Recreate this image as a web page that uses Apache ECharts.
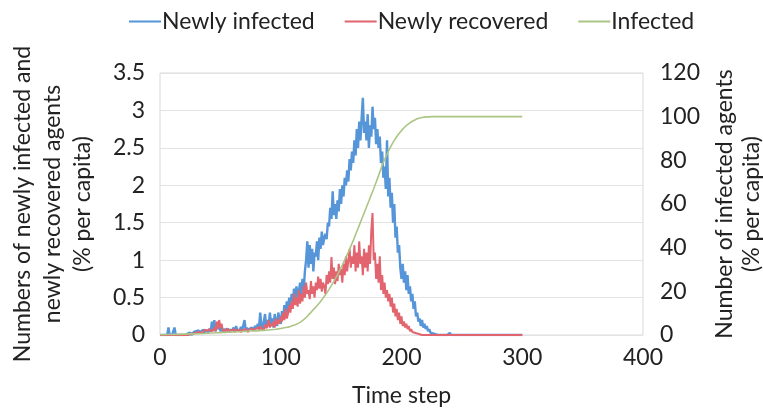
<!DOCTYPE html>
<html>
<head>
<meta charset="utf-8">
<script src="https://cdn.jsdelivr.net/npm/echarts@6/dist/echarts.min.js"></script>
<style>
  html, body { margin: 0; padding: 0; background: #ffffff; }
  #chart { width: 763px; height: 410px; }
</style>
</head>
<body>
<div id="chart"></div>
<script>
// One value per time step, starting at step 0.
const newlyInfected = [
  0,0,0,0,0,0,0,0.1,0,0,
  0,0,0.1,0,0,0,0,0,0,0,
  0,0,0,0.02,0,0.03,0,0.02,0.04,0.03,
  0.05,0.03,0.06,0.02,0.05,0.04,0.07,0.03,0.06,0.05,
  0.04,0.08,0.05,0.18,0.06,0.2,0.05,0.15,0.08,0.12,
  0.05,0.1,0.04,0.08,0.06,0.05,0.09,0.04,0.07,0.05,
  0.06,0.1,0.05,0.12,0.07,0.09,0.05,0.11,0.06,0.08,
  0.2,0.06,0.1,0.05,0.08,0.06,0.1,0.07,0.05,0.12,
  0.08,0.15,0.1,0.3,0.12,0.08,0.18,0.28,0.1,0.2,
  0.12,0.3,0.15,0.22,0.1,0.28,0.18,0.12,0.3,0.2,
  0.15,0.32,0.22,0.4,0.25,0.45,0.3,0.5,0.35,0.55,
  0.4,0.62,0.45,0.65,0.5,0.58,0.7,0.55,0.75,0.6,
  0.85,1.0,1.25,0.9,1.2,0.95,1.15,0.85,1.1,1.05,
  1.25,1.0,1.3,1.15,1.38,1.2,1.3,1.35,1.28,1.5,
  1.45,1.7,1.55,1.92,1.6,1.75,1.55,1.8,1.65,1.95,
  1.75,2.0,1.85,2.1,2.0,2.2,2.05,2.35,2.2,2.45,
  2.3,2.6,2.4,2.75,2.5,2.85,2.6,2.9,3.17,2.7,
  2.85,2.6,2.95,2.5,2.8,2.65,3.05,2.75,2.9,2.55,
  2.75,2.5,2.65,2.3,2.45,2.1,2.25,1.95,2.6,1.85,
  2.1,1.7,1.9,1.5,1.75,1.3,1.45,1.1,1.2,0.9,
  0.75,0.95,0.7,0.85,0.6,0.8,0.55,0.65,0.45,0.55,
  0.35,0.45,0.25,0.3,0.18,0.22,0.12,0.2,0.1,0.15,
  0.08,0.12,0.05,0.08,0.03,0.05,0.02,0.03,0.01,0,
  0,0,0,0,0,0,0,0,0,0,
  0.03,0,0,0,0,0,0,0,0,0,
  0,0,0,0,0,0,0,0,0,0,
  0,0,0,0,0,0,0,0,0,0,
  0,0,0,0,0,0,0,0,0,0,
  0,0,0,0,0,0,0,0,0,0,
  0,0,0,0,0,0,0,0,0,0,
  0
];

const newlyRecovered = [
  0,0,0,0,0,0,0,0,0,0,
  0,0,0,0,0,0,0,0,0,0,
  0,0,0,0,0,0,0.02,0.03,0.02,0.04,
  0.03,0.05,0.04,0.06,0.03,0.05,0.04,0.07,0.05,0.06,
  0.04,0.08,0.05,0.07,0.06,0.1,0.05,0.18,0.08,0.2,
  0.1,0.15,0.06,0.08,0.05,0.09,0.04,0.07,0.05,0.06,
  0.05,0.08,0.04,0.07,0.06,0.05,0.08,0.04,0.06,0.07,
  0.05,0.08,0.06,0.04,0.07,0.05,0.09,0.06,0.05,0.08,
  0.06,0.1,0.07,0.12,0.08,0.1,0.07,0.14,0.09,0.12,
  0.2,0.1,0.15,0.12,0.18,0.1,0.22,0.14,0.2,0.15,
  0.25,0.18,0.3,0.2,0.35,0.22,0.28,0.4,0.3,0.45,
  0.35,0.55,0.4,0.5,0.38,0.6,0.42,0.55,0.45,0.65,
  0.5,0.7,0.55,0.6,0.48,0.72,0.55,0.65,0.5,0.7,
  0.6,0.78,0.62,0.75,0.58,0.7,0.65,0.55,0.8,0.68,
  0.85,0.7,1.04,0.75,0.9,0.68,0.85,0.72,0.95,0.8,
  0.88,0.7,0.95,0.8,1.05,0.85,1.0,1.15,0.9,1.05,
  0.95,1.2,0.85,1.1,0.9,1.25,0.95,1.05,0.8,1.15,
  0.9,1.1,0.85,1.2,0.95,1.4,1.63,1.0,1.1,0.75,
  0.95,0.7,1.05,0.6,0.8,0.55,0.7,0.5,0.6,0.45,
  0.55,0.38,0.5,0.3,0.42,0.25,0.35,0.2,0.3,0.15,
  0.25,0.12,0.18,0.1,0.15,0.08,0.12,0.05,0.08,0.04,
  0.06,0.03,0.05,0.02,0.03,0.01,0.02,0,0.01,0,
  0,0,0,0,0,0,0,0,0,0,
  0,0,0,0,0,0,0,0,0,0,
  0,0,0,0,0,0,0,0,0,0,
  0,0,0,0,0,0,0,0,0,0,
  0,0,0,0,0,0,0,0,0,0,
  0,0,0,0,0,0,0,0,0,0,
  0,0,0,0,0,0,0,0,0,0,
  0,0,0,0,0,0,0,0,0,0,
  0
];

const infected = [
  0.1,0.1,0.1,0.1,0.1,0.2,0.2,0.2,0.2,0.2,
  0.2,0.3,0.3,0.3,0.3,0.3,0.3,0.3,0.4,0.4,
  0.4,0.4,0.4,0.4,0.5,0.5,0.5,0.5,0.5,0.6,
  0.6,0.6,0.6,0.6,0.7,0.7,0.7,0.7,0.8,0.8,
  0.8,0.8,0.9,0.9,0.9,1.0,1.0,1.0,1.1,1.1,
  1.1,1.2,1.2,1.2,1.2,1.3,1.3,1.3,1.3,1.4,
  1.4,1.4,1.4,1.5,1.5,1.5,1.5,1.6,1.6,1.6,
  1.6,1.7,1.7,1.7,1.8,1.8,1.8,1.8,1.9,1.9,
  1.9,2.0,2.0,2.0,2.1,2.1,2.1,2.2,2.2,2.2,
  2.3,2.3,2.4,2.4,2.5,2.5,2.6,2.7,2.8,2.9,
  3.0,3.1,3.2,3.3,3.4,3.5,3.6,3.8,3.9,4.1,
  4.3,4.5,4.7,4.9,5.2,5.5,5.8,6.2,6.6,7.0,
  7.5,8.0,8.6,9.2,9.8,10.4,11.0,11.6,12.2,12.8,
  13.4,14.0,14.7,15.4,16.1,16.8,17.6,18.4,19.2,20.0,
  20.9,21.8,22.7,23.6,24.6,25.6,26.6,27.6,28.7,29.8,
  30.9,32.0,33.2,34.4,35.6,36.8,38.0,39.3,40.6,41.9,
  43.2,44.6,46.0,47.4,48.8,50.2,51.6,53.0,54.4,55.8,
  57.2,58.6,60.0,61.4,62.8,64.2,65.6,67.0,68.5,70.0,
  71.5,73.0,74.6,76.1,77.6,79.0,80.3,81.6,82.8,84.0,
  85.1,86.2,87.2,88.2,89.1,90.0,90.8,91.6,92.3,93.0,
  93.7,94.3,94.9,95.4,95.9,96.4,96.8,97.2,97.6,97.9,
  98.2,98.5,98.8,99.0,99.2,99.4,99.5,99.6,99.7,99.8,
  99.8,99.9,99.9,99.9,100,100,100,100,100,100,
  100,100,100,100,100,100,100,100,100,100,
  100,100,100,100,100,100,100,100,100,100,
  100,100,100,100,100,100,100,100,100,100,
  100,100,100,100,100,100,100,100,100,100,
  100,100,100,100,100,100,100,100,100,100,
  100,100,100,100,100,100,100,100,100,100,
  100,100,100,100,100,100,100,100,100,100,
  100
];

const seriesNames = ['Newly infected', 'Newly recovered', 'Infected'];
const seriesColors = ['#5595d8', '#e2646f', '#acc585'];

const FONT = 'Lato';
const TEXT = '#222222';
const FS = 23;

// pair each value with its time step
const toPoints = arr => arr.map((v, i) => [i, v]);

const chart = echarts.init(document.getElementById('chart'));
chart.setOption({
  animation: false,
  backgroundColor: '#ffffff',
  textStyle: { fontFamily: FONT, color: TEXT },
  legend: {
    top: 5,
    left: 124,
    data: seriesNames,
    icon: 'rect',
    itemWidth: 32,
    itemHeight: 2,
    itemGap: 30,
    textStyle: { fontFamily: FONT, fontSize: FS, color: TEXT, padding: [0, 0, 0, -4] }
  },
  grid: {
    left: 160, right: 120, top: 73, bottom: 75,
    containLabel: false, outerBoundsMode: 'none',
    show: true, borderColor: '#d9d9d9', borderWidth: 1
  },
  xAxis: {
    type: 'value', min: 0, max: 400, interval: 100,
    name: 'Time step', nameLocation: 'middle', nameGap: 49,
    nameTextStyle: { fontFamily: FONT, fontSize: FS, color: TEXT },
    axisLine: { show: false }, axisTick: { show: false },
    splitLine: { show: false },
    axisLabel: { fontFamily: FONT, fontSize: FS, color: TEXT, margin: 11 }
  },
  yAxis: [
    {
      type: 'value', min: 0, max: 3.5, interval: 0.5,
      name: 'Numbers of newly infected and\nnewly recovered agents\n(% per capita)',
      nameLocation: 'middle', nameRotate: 90, nameGap: 62,
      nameTextStyle: { fontFamily: FONT, fontSize: FS, color: TEXT, lineHeight: 30, align: 'center' },
      axisLine: { show: false }, axisTick: { show: false },
      splitLine: { show: true, lineStyle: { color: '#e3e3e3', width: 1 } },
      axisLabel: { fontFamily: FONT, fontSize: FS, color: TEXT, margin: 15 }
    },
    {
      type: 'value', min: 0, max: 120, interval: 20,
      name: 'Number of infected agents\n(% per capita)',
      nameLocation: 'middle', nameRotate: 90, nameGap: 56,
      nameTextStyle: { fontFamily: FONT, fontSize: FS, color: TEXT, lineHeight: 27, align: 'center' },
      axisLine: { show: false }, axisTick: { show: false },
      splitLine: { show: false },
      axisLabel: { fontFamily: FONT, fontSize: FS, color: TEXT, margin: 17 }
    }
  ],
  series: [
    {
      name: seriesNames[0], type: 'line', yAxisIndex: 0,
      data: toPoints(newlyInfected), showSymbol: false,
      lineStyle: { color: seriesColors[0], width: 2.4 },
      itemStyle: { color: seriesColors[0] }, z: 2
    },
    {
      name: seriesNames[1], type: 'line', yAxisIndex: 0,
      data: toPoints(newlyRecovered), showSymbol: false,
      lineStyle: { color: seriesColors[1], width: 2 },
      itemStyle: { color: seriesColors[1] }, z: 3
    },
    {
      name: seriesNames[2], type: 'line', yAxisIndex: 1,
      data: toPoints(infected), showSymbol: false,
      lineStyle: { color: seriesColors[2], width: 1.6 },
      itemStyle: { color: seriesColors[2] }, z: 4
    }
  ]
});
</script>
</body>
</html>
